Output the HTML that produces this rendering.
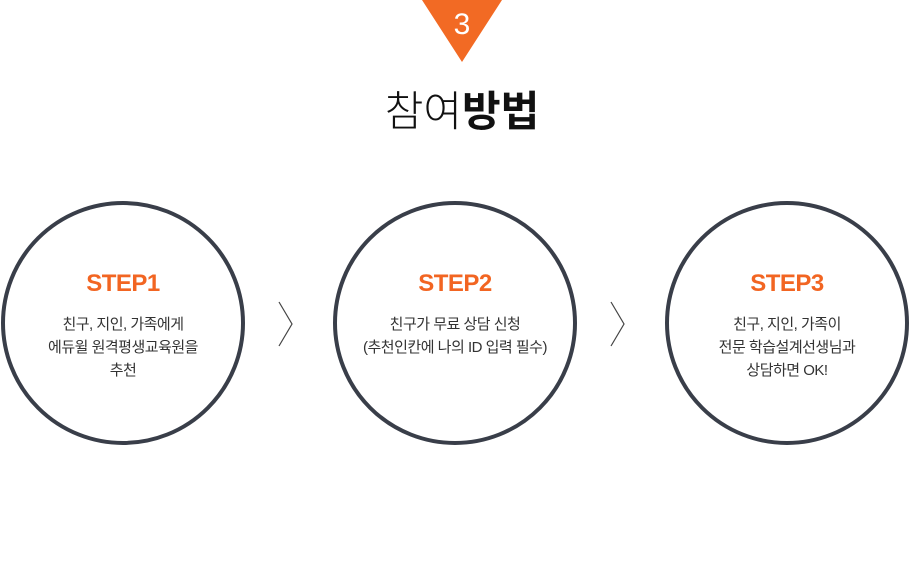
<!DOCTYPE html>
<html><head><meta charset="utf-8"><style>
body{margin:0;width:912px;height:561px;background:#fff;position:relative;overflow:hidden;font-family:"Liberation Sans","Noto Sans CJK KR",sans-serif}
.tri{position:absolute;left:422px;top:0;width:0;height:0;border-left:40px solid transparent;border-right:40px solid transparent;border-top:62px solid #f26a24}
.num{position:absolute;left:422px;top:5px;width:80px;text-align:center;color:#fff;font-size:30px;font-weight:300;line-height:40px}
.title{position:absolute;left:6px;width:912px;top:86px;text-align:center;font-size:42px;line-height:52px;color:#111;letter-spacing:0px}
.title b{font-weight:700}.title span{font-weight:300}
.c{position:absolute;top:201px;width:236px;height:236px;border:4px solid #393e49;border-radius:50%;text-align:center}
.c h3{margin:64px 0 0;font-size:24px;line-height:30px;color:#f26522;font-weight:700;letter-spacing:-0.5px}
.c p{margin:14px 0 0;font-size:15px;line-height:23px;color:#333;letter-spacing:-0.5px}
.ch{position:absolute;top:301px}
</style></head><body>
<div class="tri"></div><div class="num">3</div>
<div class="title"><span>참여</span><b>방법</b></div>
<div class="c" style="left:1px"><h3>STEP1</h3><p>친구, 지인, 가족에게<br>에듀윌 원격평생교육원을<br>추천</p></div>
<div class="c" style="left:333px"><h3>STEP2</h3><p>친구가 무료 상담 신청<br>(추천인칸에 나의 ID 입력 필수)</p></div>
<div class="c" style="left:665px"><h3>STEP3</h3><p>친구, 지인, 가족이<br>전문 학습설계선생님과<br>상담하면 OK!</p></div>
<svg class="ch" style="left:278px" width="16" height="46"><polyline points="1,1 14,23 1,45" fill="none" stroke="#444" stroke-width="1.2"/></svg>
<svg class="ch" style="left:610px" width="16" height="46"><polyline points="1,1 14,23 1,45" fill="none" stroke="#444" stroke-width="1.2"/></svg>
</body></html>
